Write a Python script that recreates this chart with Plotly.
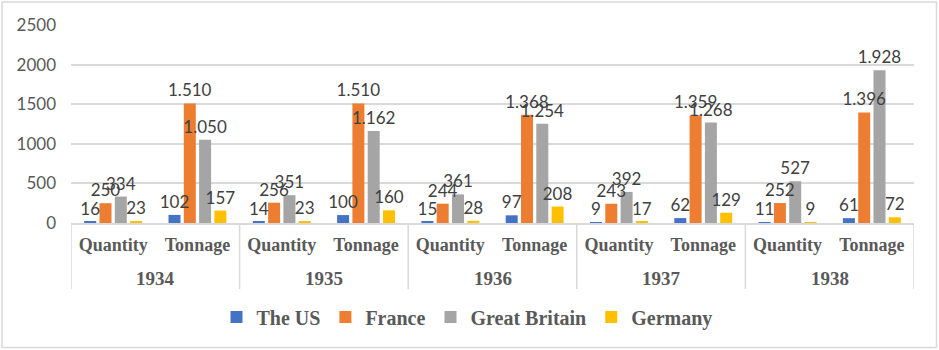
import plotly.graph_objects as go

# Years and measures (two-level category axis)
years = ["1934", "1935", "1936", "1937", "1938"]
measures = ["Quantity", "Tonnage"]

# Values per country, ordered year by year: Quantity then Tonnage
us = [16, 102, 14, 100, 15, 97, 9, 62, 11, 61]
france = [250, 1510, 256, 1510, 244, 1368, 243, 1359, 252, 1396]
great_britain = [334, 1050, 351, 1162, 361, 1254, 392, 1268, 527, 1928]
germany = [23, 157, 23, 160, 28, 208, 17, 129, 9, 72]

series = [
    ("The US", us, "#4472C4"),
    ("France", france, "#ED7D31"),
    ("Great Britain", great_britain, "#A5A5A5"),
    ("Germany", germany, "#FFC000"),
]

n_m = len(measures)
slots = list(range(len(years) * n_m))
slot_labels = [m for _ in years for m in measures]

W, H = 939, 350
ML, MR, MT, MB = 71, 25, 25, 127
pw = W - ML - MR
ph = H - MT - MB

GRID = "#D9D9D9"
LABEL = "#595959"


def px_x(p):
    return (p - ML) / pw


def px_y(p):
    return (H - MB - p) / ph


def dotted(v):
    return f"{v:,}".replace(",", ".")


fig = go.Figure()
# Bars
for k, (name, vals, color) in enumerate(series):
    fig.add_trace(go.Bar(
        name=name,
        x=slots,
        y=vals,
        offsetgroup=str(k),
        marker=dict(color=color, line=dict(width=0)),
        hoverinfo="skip",
    ))
# Value labels, drawn after all bars so they sit on top
for k, (name, vals, color) in enumerate(series):
    fig.add_trace(go.Bar(
        name=name,
        x=slots,
        y=vals,
        offsetgroup=str(k),
        showlegend=False,
        marker=dict(color="rgba(0,0,0,0)", line=dict(width=0)),
        text=[dotted(v) for v in vals],
        textposition="outside",
        constraintext="none",
        cliponaxis=False,
        textfont=dict(family="Lato", size=17, color="#404040"),
        hoverinfo="skip",
    ))

# Year labels (second tier) and group dividers below the axis
annotations = []
shapes = []
for i, yr in enumerate(years):
    annotations.append(dict(
        x=i * n_m + (n_m - 1) / 2, xref="x",
        y=px_y(278), yref="paper",
        text=yr, showarrow=False, yanchor="middle",
        font=dict(family="Liberation Serif", size=19, color=LABEL, weight="bold"),
    ))
for i in range(len(years) + 1):
    shapes.append(dict(
        type="line", xref="x", yref="paper",
        x0=i * n_m - 0.5, x1=i * n_m - 0.5, y0=0, y1=px_y(289),
        line=dict(color=GRID, width=1.5),
    ))

# Chart frame
shapes.append(dict(
    type="rect", xref="paper", yref="paper",
    x0=px_x(2), x1=px_x(936.5), y0=px_y(347.5), y1=px_y(2),
    line=dict(color=GRID, width=1.5), fillcolor="rgba(0,0,0,0)",
    layer="below",
))

fig.update_layout(
    width=W, height=H,
    margin=dict(l=ML, r=MR, t=MT, b=MB, pad=0),
    paper_bgcolor="white",
    plot_bgcolor="white",
    barmode="group",
    bargap=0.274,
    bargroupgap=0.216,
    showlegend=True,
    legend=dict(
        orientation="h",
        x=px_x(467), xanchor="center",
        y=px_y(317), yanchor="middle",
        font=dict(family="Liberation Serif", size=20, color=LABEL, weight="bold"),
        itemwidth=30,
        bgcolor="rgba(0,0,0,0)",
    ),
    xaxis=dict(
        range=[-0.5, len(slots) - 0.5],
        tickmode="array", tickvals=slots, ticktext=slot_labels,
        showline=True, linecolor=GRID, linewidth=1.5,
        showgrid=False, zeroline=False,
        ticks="",
        ticklabelstandoff=5,
        tickfont=dict(family="Liberation Serif", size=18, color=LABEL, weight="bold"),
    ),
    yaxis=dict(
        range=[0, 2500], dtick=500,
        showgrid=True, gridcolor=GRID, gridwidth=1.5,
        zeroline=False, showline=False, ticks="",
        ticklabelstandoff=14,
        tickfont=dict(family="Lato", size=17, color=LABEL),
    ),
    annotations=annotations,
    shapes=shapes,
)

fig.write_html("out.html")
